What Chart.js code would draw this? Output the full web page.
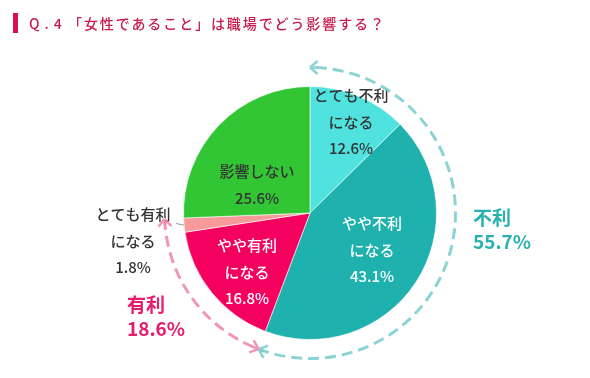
<!DOCTYPE html>
<html><head><meta charset="utf-8">
<script src="https://cdn.jsdelivr.net/npm/chart.js@4"></script>
<style>
html,body{margin:0;padding:0;background:#fff;}
#wrap{position:relative;width:590px;height:378px;}
#bar{position:absolute;left:13px;top:13px;width:5px;height:20px;background:#d3124e;}
#q{position:absolute;left:29px;top:13px;font:500 14px 'Noto Sans CJK JP';color:#c81a4e;letter-spacing:5px;line-height:20px;white-space:nowrap;}
#t{position:absolute;left:68px;top:13px;font:500 14px 'Noto Sans CJK JP';color:#c81a4e;letter-spacing:1.9px;line-height:20px;white-space:nowrap;}
canvas{position:absolute;left:0;top:0;}
</style></head>
<body><div id="wrap">
<canvas id="c" width="590" height="378"></canvas>
<div id="bar"></div><div id="q">Q.4</div><div id="t">「女性であること」は職場でどう影響する？</div>
</div>
<script>
const categories = ['とても不利になる','やや不利になる','やや有利になる','とても有利になる','影響しない'];
const values = [12.6, 43.1, 16.8, 1.8, 25.6];
const sliceColors = ['#4fe2de','#1fb1ae','#f4005f','#f69a9a','#33c634'];
const labelLines = [['とても不利','になる'],['やや不利','になる'],['やや有利','になる'],['とても有利','になる'],['影響しない']];
const groupNames = ['不利','有利'];
const groupValues = [55.7, 18.6];

// label styling (offsets from pie centre, px)
const labelStyle = [
  {dx:41, dy:-91, color:'#333'},
  {dx:62, dy:37, color:'#fff'},
  {dx:-63, dy:59, color:'#fff'},
  {dx:-177, dy:28, color:'#333', leader:true},
  {dx:-53, dy:-28, color:'#333'}
];

const deco = {
  id:'deco',
  afterDraw(chart){
    const ctx = chart.ctx;
    const arcs = chart.getDatasetMeta(0).data;
    const cx = arcs[0].x, cy = arcs[0].y, R = arcs[0].outerRadius;
    const total = values.reduce((a,b)=>a+b,0);
    // labels
    ctx.save();
    ctx.font = '500 15px "Noto Sans CJK JP"';
    ctx.textAlign = 'center'; ctx.textBaseline = 'middle';
    const lh = 26.5;
    values.forEach((v,i)=>{
      const s = labelStyle[i];
      const lines = labelLines[i].concat([v.toFixed(1)+'%']);
      const x = cx + s.dx, y0 = cy + s.dy - (lines.length-1)*lh/2;
      ctx.fillStyle = s.color;
      lines.forEach((t,k)=>ctx.fillText(t, x, y0 + k*lh));
      if (s.leader){
        const a = arcs[i];
        const mid = (a.startAngle + a.endAngle)/2;
        ctx.strokeStyle = '#999'; ctx.lineWidth = 1;
        ctx.beginPath();
        ctx.moveTo(cx + Math.cos(mid)*R, cy + Math.sin(mid)*R);
        ctx.lineTo(cx + s.dx + 43, y0 + 9);
        ctx.stroke();
      }
    });
    ctx.restore();
    // dashed arcs with arrows
    const Rd = R + 19;
    const drawGroup = (a1, a2, color)=>{
      ctx.save();
      ctx.strokeStyle = color; ctx.lineWidth = 3; ctx.lineCap = 'butt';
      ctx.setLineDash([11,6]);
      ctx.beginPath(); ctx.arc(cx, cy, Rd, a1 + 0.04, a2 - 0.02); ctx.stroke();
      ctx.setLineDash([]); ctx.lineWidth = 2.5;
      const arrow = (a, dir)=>{
        const px = cx + Math.cos(a)*Rd, py = cy + Math.sin(a)*Rd;
        let dx = -Math.sin(a)*dir, dy = Math.cos(a)*dir;
        const L = 10, ang = 0.7;
        ctx.beginPath();
        for (const s of [1,-1]){
          const c = Math.cos(ang*s), sn = Math.sin(ang*s);
          const bx = -(dx*c - dy*sn), by = -(dx*sn + dy*c);
          ctx.moveTo(px, py); ctx.lineTo(px + bx*L, py + by*L);
        }
        ctx.moveTo(px, py); ctx.lineTo(px - dx*6, py - dy*6);
        ctx.stroke();
      };
      arrow(a1, -1); arrow(a2, 1);
      ctx.restore();
    };
    const start = -Math.PI/2;
    const tA = start, tB = start + (values[0]+values[1])/total*2*Math.PI;
    const pB = start + (values[0]+values[1]+values[2]+values[3])/total*2*Math.PI;
    drawGroup(tA, tB, 'rgba(120,205,205,0.85)');
    drawGroup(tB, pB, 'rgba(240,130,170,0.85)');
    // group totals
    ctx.save();
    ctx.font = 'bold 19px "Noto Sans CJK JP"';
    ctx.textAlign = 'left'; ctx.textBaseline = 'middle';
    ctx.fillStyle = '#27b2ad';
    ctx.fillText(groupNames[0], cx + 163, cy + 5);
    ctx.fillText(groupValues[0].toFixed(1)+'%', cx + 163, cy + 29);
    ctx.fillStyle = '#e41c6c';
    ctx.fillText(groupNames[1], cx - 183, cy + 92);
    ctx.fillText(groupValues[1].toFixed(1)+'%', cx - 183, cy + 116);
    ctx.restore();
  }
};

new Chart(document.getElementById('c'), {
  type:'pie',
  data:{labels:categories, datasets:[{data:values, backgroundColor:sliceColors, borderColor:'rgba(255,255,255,0.6)', borderWidth:1}]},
  options:{
    responsive:false, animation:false,
    layout:{padding:{top:86, bottom:38, left:183, right:153}},
    plugins:{legend:{display:false}, tooltip:{enabled:false}, title:{display:false}}
  },
  plugins:[deco]
});
</script>
</body></html>
